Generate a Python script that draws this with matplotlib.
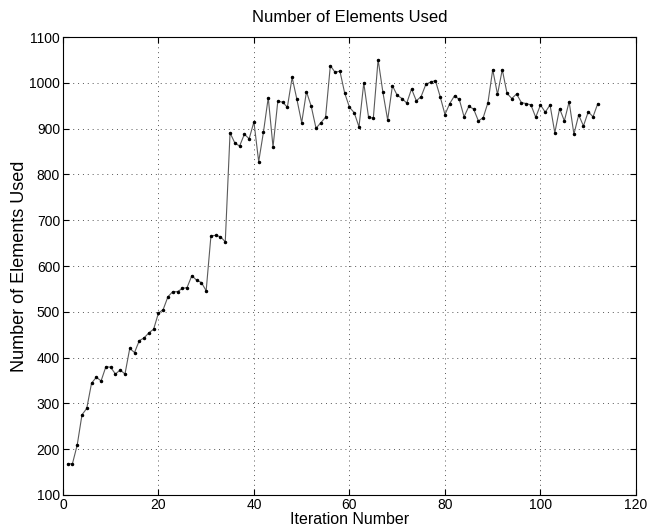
import matplotlib
matplotlib.use("Agg")
import matplotlib.pyplot as plt

# elements used per iteration
ITERATIONS = list(range(1, 113))
ELEMENTS = [
    168, 168, 209, 275, 289, 344, 357, 349, 380, 379,
    364, 373, 364, 420, 411, 437, 443, 454, 462, 497,
    505, 533, 544, 544, 551, 553, 579, 569, 564, 546,
    666, 667, 664, 653, 891, 869, 862, 888, 878, 915,
    828, 893, 968, 860, 960, 958, 947, 1012, 964, 913,
    981, 949, 901, 913, 925, 1038, 1023, 1026, 978, 947,
    935, 904, 1000, 925, 923, 1051, 980, 919, 994, 973,
    966, 956, 987, 961, 970, 997, 1002, 1005, 970, 931,
    955, 972, 964, 926, 949, 943, 917, 924, 957, 1029,
    975, 1029, 977, 966, 976, 957, 955, 952, 925, 952,
    936, 952, 891, 944, 917, 959, 888, 930, 906, 937,
    926, 955,
]
X_TICKS = list(range(0, 121, 20))
Y_TICKS = list(range(100, 1101, 100))

plt.rcParams["font.family"] = ["Liberation Sans", "DejaVu Sans"]

fig = plt.figure(figsize=(6.55, 5.31), dpi=100)
ax = fig.add_axes([0.096, 0.068, 0.875, 0.862])

ax.plot(ITERATIONS, ELEMENTS, color="#5a5a5a", linewidth=0.8,
        marker=".", markersize=3, markerfacecolor="black",
        markeredgecolor="black", zorder=3)

ax.set_xlim(0, 120)
ax.set_ylim(100, 1100)
ax.set_xticks(X_TICKS)
ax.set_yticks(Y_TICKS)
ax.grid(True, color="#555555", linestyle=(0, (1, 4)), linewidth=0.7)
ax.tick_params(direction="in", length=4, width=0.8, labelsize=10, pad=2,
               top=True, right=True)
for spine in ax.spines.values():
    spine.set_linewidth(0.8)

ax.set_title("Number of Elements Used", fontsize=12, pad=11)
ax.set_xlabel("Iteration Number", fontsize=11.5, labelpad=0)
ax.set_ylabel("Number of Elements Used", fontsize=13, labelpad=1)

fig.savefig("out.png", dpi=100, facecolor="white")
